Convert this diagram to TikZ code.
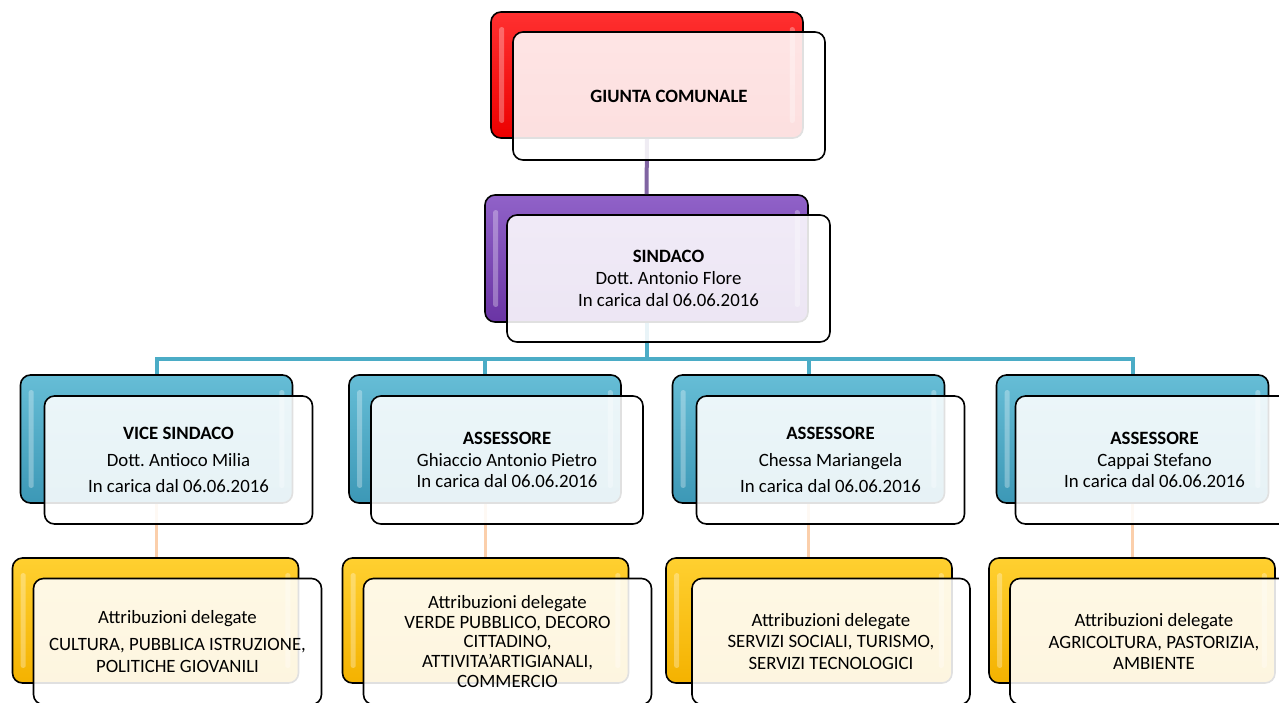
\documentclass[tikz,border=0pt]{standalone}
\usepackage{fontspec}
\setmainfont{Carlito}
\usepackage{xcolor}
\usepackage{tikz}
\frenchspacing
\definecolor{redtop}{HTML}{FF3030}
\definecolor{redbot}{HTML}{EC0000}
\definecolor{purtop}{HTML}{9062C8}
\definecolor{purbot}{HTML}{6A34A4}
\definecolor{blutop}{HTML}{66BDD6}
\definecolor{blubot}{HTML}{3C98B6}
\definecolor{yeltop}{HTML}{FFD030}
\definecolor{yelbot}{HTML}{F4B200}
\definecolor{lnpur}{HTML}{8064A2}
\definecolor{lncya}{HTML}{4BACC6}
\definecolor{lnora}{HTML}{F79646}
\tikzset{
  back/.style={draw=black, line width=1.6pt, rounded corners=10pt, inner sep=0pt},
  redbox/.style={top color=redtop, bottom color=redbot, minimum width=312, minimum height=126},
  purbox/.style={top color=purtop, bottom color=purbot, minimum width=323, minimum height=127},
  blubox/.style={top color=blutop, bottom color=blubot, minimum width=272, minimum height=128},
  yelbox/.style={top color=yeltop, bottom color=yelbot, minimum width=286, minimum height=125},
  front/.style={draw=black, line width=1.6pt, rounded corners=10pt, fill=white,
    fill opacity=0.88, text opacity=1, inner sep=2pt, align=center,
    font=\fontsize{18.8}{21.8}\selectfont},
  gloss/.style={fill=white, opacity=0.3, rounded corners=2pt},
  linkp/.style={draw=lnpur, line width=4pt},
  linkc/.style={draw=lncya, line width=4pt, line join=miter},
  linko/.style={draw=lnora, line width=3pt, opacity=0.45},
}

\begin{document}
\begin{tikzpicture}[x=1pt, y=-1pt]
  \clip (0,0) rectangle (1279,702);
  \fill[white] (0,0) rectangle (1279,702);
  % back boxes
  \node[back, redbox] (gc) at (647,75) {};
  \node[back, purbox] (sd) at (646.5,258.5) {};
  \node[back, blubox] (b1) at (156.5,439) {};
  \node[back, blubox] (b2) at (485,439) {};
  \node[back, blubox] (b3) at (808.5,439) {};
  \node[back, blubox] (b4) at (1132.5,439) {};
  \node[back, yelbox] (a1) at (155.5,620.5) {};
  \node[back, yelbox] (a2) at (485.5,620.5) {};
  \node[back, yelbox] (a3) at (809,620.5) {};
  \node[back, yelbox] (a4) at (1132,620.5) {};
  \foreach \n in {gc,sd,b1,b2,b3,b4,a1,a2,a3,a4} {
    \fill[gloss] ([shift={(9,16)}]\n.north west) rectangle ([shift={(14,-16)}]\n.south west);
    \fill[gloss] ([shift={(-14,16)}]\n.north east) rectangle ([shift={(-9,-16)}]\n.south east);
  }
  % connectors
  \draw[linkp] (gc.south) -- (sd.north);
  \foreach \n in {b1,b2,b3,b4}
    \draw[linkc] (sd.south) -- ++(0,36) -| (\n.north);
  \foreach \i in {1,...,4}
    \draw[linko] (b\i.south) -- (b\i.south |- a\i.north);
  % front boxes
  \node[front, minimum width=312, minimum height=128] (gcF) at ([shift={(22,21)}]gc.center)
    {\textbf{GIUNTA COMUNALE}};
  \node[front, minimum width=323, minimum height=127] (sdF) at ([shift={(22,20)}]sd.center)
    {\textbf{SINDACO}\\Dott. Antonio Flore\\In carica dal 06.06.2016};
  \node[front, minimum width=268, minimum height=128] (b1F) at ([shift={(22,21)}]b1.center)
    {\textbf{VICE SINDACO}\\[5pt]Dott. Antioco Milia\\[5pt]In carica dal 06.06.2016};
  \node[front, minimum width=272, minimum height=128] (b2F) at ([shift={(22,21)}]b2.center)
    {\textbf{ASSESSORE}\\Ghiaccio Antonio Pietro\\In carica dal 06.06.2016};
  \node[front, minimum width=268, minimum height=128] (b3F) at ([shift={(22,21)}]b3.center)
    {\textbf{ASSESSORE}\\[5pt]Chessa Mariangela\\[5pt]In carica dal 06.06.2016};
  \node[front, minimum width=278, minimum height=128] (b4F) at ([shift={(22,21)}]b4.center)
    {\textbf{ASSESSORE}\\Cappai Stefano\\In carica dal 06.06.2016};
  \node[front, minimum width=288, minimum height=126] (a1F) at ([shift={(22,21)}]a1.center)
    {Attribuzioni delegate\\[6pt]CULTURA, PUBBLICA ISTRUZIONE,\\POLITICHE GIOVANILI};
  \node[front, minimum width=288, minimum height=126,
    font=\fontsize{18.8}{19.8}\selectfont] (a2F) at ([shift={(22,21)}]a2.center)
    {Attribuzioni delegate\\VERDE PUBBLICO, DECORO\\CITTADINO,\\ATTIVITA’ARTIGIANALI,\\COMMERCIO};
  \node[front, minimum width=278, minimum height=126] (a3F) at ([shift={(22,21)}]a3.center)
    {Attribuzioni delegate\\SERVIZI SOCIALI, TURISMO,\\SERVIZI TECNOLOGICI};
  \node[front, minimum width=288, minimum height=126] (a4F) at ([shift={(22,21)}]a4.center)
    {Attribuzioni delegate\\AGRICOLTURA, PASTORIZIA,\\AMBIENTE};
\end{tikzpicture}
\end{document}
